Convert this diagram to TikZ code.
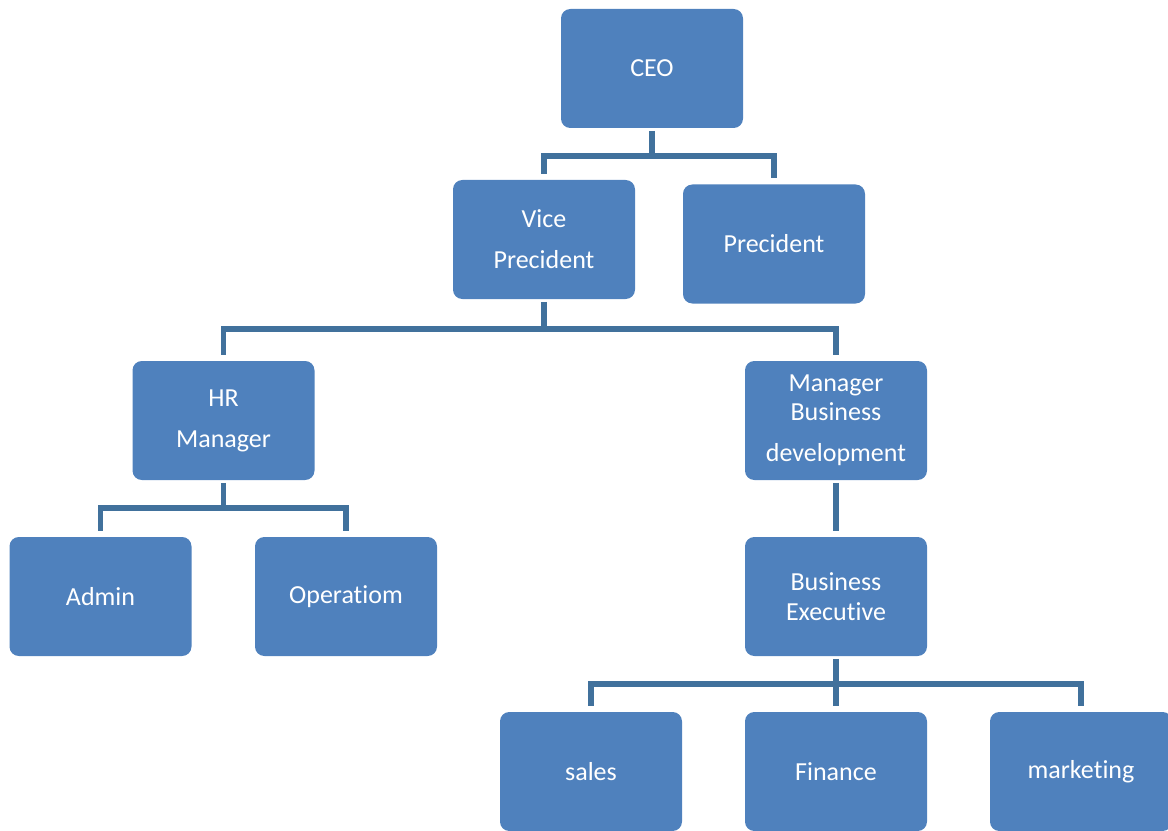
\documentclass[tikz,border=0pt]{standalone}
\usepackage{fontspec}
\setmainfont{Carlito}[Ligatures={NoCommon}]
\definecolor{boxblue}{HTML}{4F81BD}
\definecolor{lineblue}{HTML}{41719C}
\begin{document}
\begin{tikzpicture}[x=0.75pt,y=-0.75pt,
  box/.style={rectangle,rounded corners=7pt,fill=boxblue,text=white,
    minimum width=136.5pt,minimum height=89.25pt,inner sep=0pt,align=center,
    font=\fontsize{19.5}{22.5}\selectfont},
  conn/.style={draw=lineblue,line width=3.9pt}]
\useasboundingbox (0,0) rectangle (1168,831);
\node[box] (ceo)   at (652,68.5)   {CEO};
\node[box] (vp)    at (544,239.5)  {Vice\\[8.25pt]Precident};
\node[box] (pres)  at (774,244)    {Precident};
\node[box] (hr)    at (223.5,420.5){HR\\[8.25pt]Manager};
\node[box] (mbd)   at (836,420.5)  {Manager\\[-0.75pt]Business\\[8.25pt]development};
\node[box] (admin) at (100.5,596.5){Admin};
\node[box] (oper)  at (346,596.5)  {Operatiom};
\node[box] (be)    at (836,596.5)  {Business\\Executive};
\node[box] (sales) at (591,771.5)  {sales};
\node[box] (fin)   at (836,771.5)  {Finance};
\node[box] (mkt)   at (1081,771.5) {marketing};
\coordinate (j1) at (0,156);
\coordinate (j2) at (0,329);
\coordinate (j3) at (0,508);
\coordinate (j4) at (0,684);
\draw[conn] ([yshift=-2pt]ceo.south) -- (ceo.south|-j1) -| ([yshift=4.5pt]vp.north);
\draw[conn] (ceo.south|-j1) -| ([yshift=4.5pt]pres.north);
\draw[conn] ([yshift=-2pt]vp.south) -- (vp.south|-j2) -| ([yshift=4.5pt]hr.north);
\draw[conn] (vp.south|-j2) -| ([yshift=4.5pt]mbd.north);
\draw[conn] ([yshift=-2pt]hr.south) -- (hr.south|-j3) -| ([yshift=4.5pt]admin.north);
\draw[conn] (hr.south|-j3) -| ([yshift=4.5pt]oper.north);
\draw[conn] ([yshift=-2pt]mbd.south) -- ([yshift=4.5pt]be.north);
\draw[conn] ([yshift=-2pt]be.south) -- ([yshift=4.5pt]fin.north);
\draw[conn] (be.south|-j4) -| ([yshift=4.5pt]sales.north);
\draw[conn] (be.south|-j4) -| ([yshift=4.5pt]mkt.north);
\end{tikzpicture}
\end{document}
